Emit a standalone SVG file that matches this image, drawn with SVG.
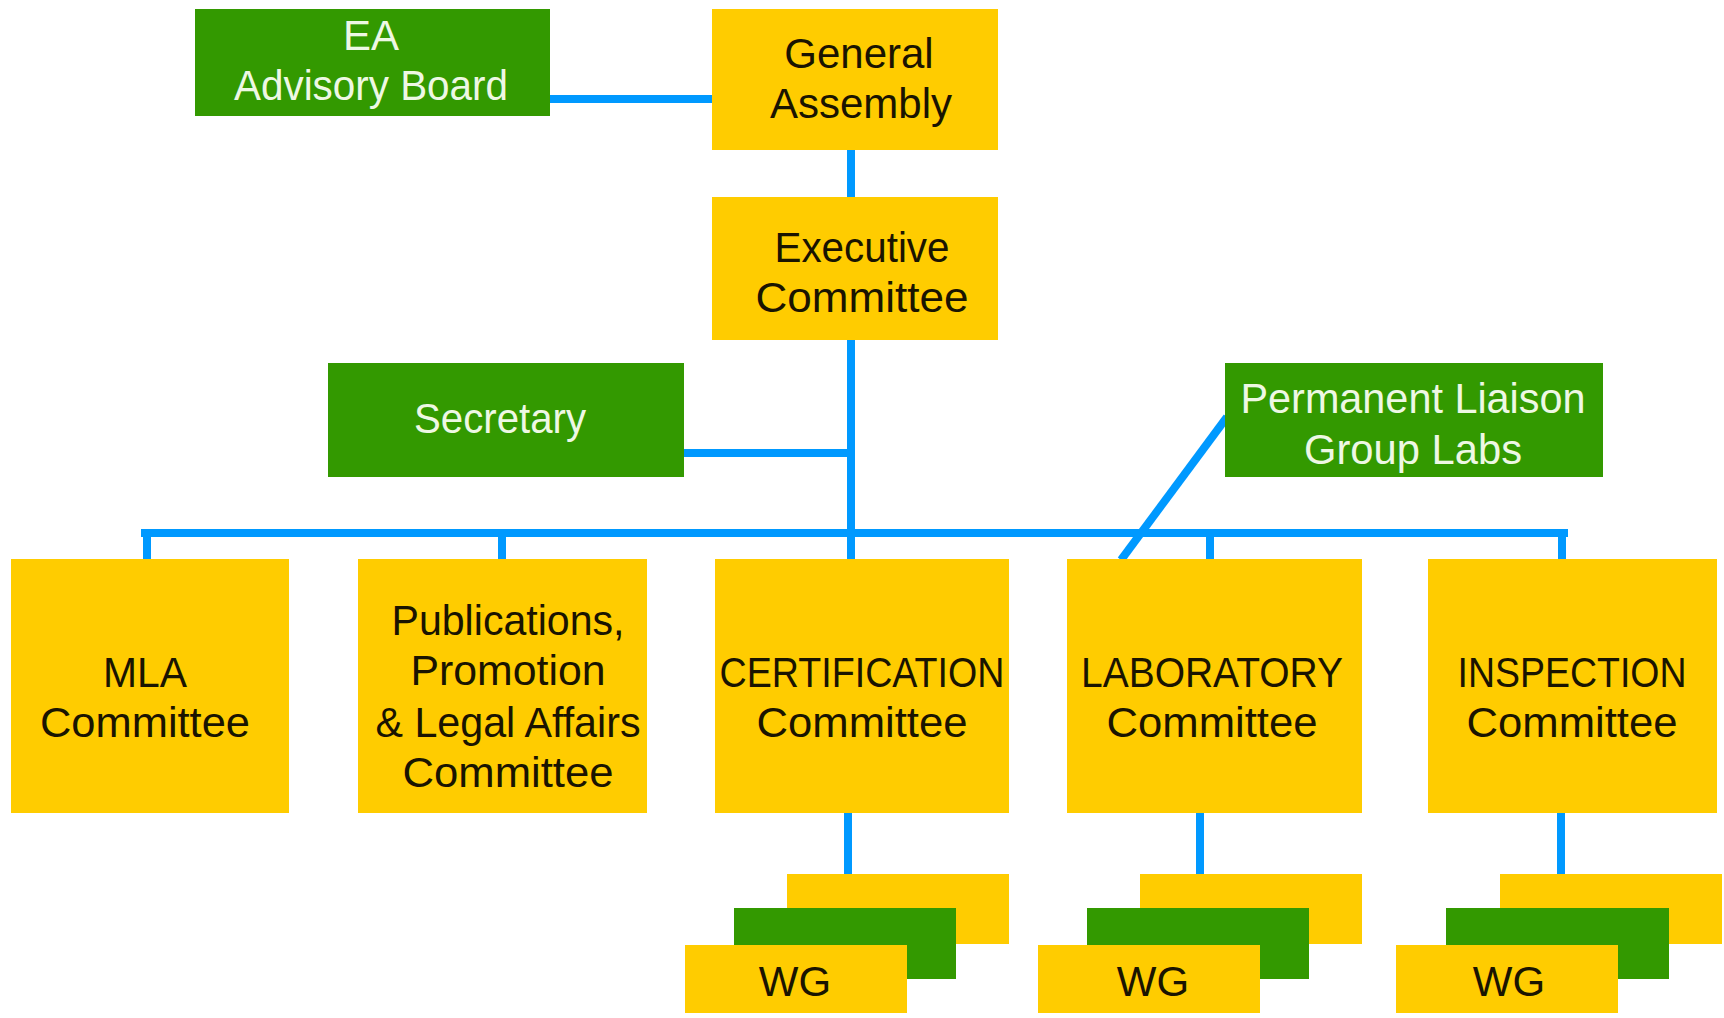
<svg xmlns="http://www.w3.org/2000/svg" width="1724" height="1018" viewBox="0 0 1724 1018">
<style>
.y{fill:#ffcc00}
.g{fill:#339900}
.t{font-family:"Liberation Sans",Arial,sans-serif;font-size:42px;fill:#1a1400;text-anchor:middle}
.w{font-family:"Liberation Sans",Arial,sans-serif;font-size:42px;fill:#eef8e4;text-anchor:middle}
.c{stroke:#0099ff;fill:none;stroke-width:8}
</style>
<rect width="1724" height="1018" fill="#ffffff"/>
<g id="connectors">
<line class="c" x1="549" y1="99" x2="712" y2="99"/>
<line class="c" x1="851" y1="149" x2="851" y2="198"/>
<line class="c" x1="851" y1="340" x2="851" y2="560"/>
<line class="c" x1="683" y1="453" x2="851" y2="453"/>
<line class="c" x1="141" y1="533" x2="1568" y2="533" stroke-width="14"/>
<line class="c" x1="147" y1="533" x2="147" y2="560"/>
<line class="c" x1="502" y1="533" x2="502" y2="560"/>
<line class="c" x1="1210" y1="533" x2="1210" y2="560"/>
<line class="c" x1="1562" y1="533" x2="1562" y2="560"/>
<line class="c" x1="1227" y1="417" x2="1121" y2="560" stroke-width="7"/>
<line class="c" x1="848" y1="812" x2="848" y2="875"/>
<line class="c" x1="1200" y1="812" x2="1200" y2="875"/>
<line class="c" x1="1561" y1="812" x2="1561" y2="875"/>
</g>
<g id="ea-advisory-board">
<rect class="g" x="195" y="9" width="355" height="107"/>
<text class="w" x="371" y="50">EA</text>
<text class="w" x="371" y="100" textLength="274" lengthAdjust="spacingAndGlyphs">Advisory Board</text>
</g>
<g id="general-assembly">
<rect class="y" x="712" y="9" width="286" height="141"/>
<text class="t" x="859" y="68">General</text>
<text class="t" x="861" y="118">Assembly</text>
</g>
<g id="executive-committee">
<rect class="y" x="712" y="197" width="286" height="143"/>
<text class="t" x="862" y="262" textLength="175" lengthAdjust="spacingAndGlyphs">Executive</text>
<text class="t" x="862" y="312" textLength="213" lengthAdjust="spacingAndGlyphs">Committee</text>
</g>
<g id="secretary">
<rect class="g" x="328" y="363" width="356" height="114"/>
<text class="w" x="500" y="433" textLength="172" lengthAdjust="spacingAndGlyphs">Secretary</text>
</g>
<g id="permanent-liaison-group-labs">
<rect class="g" x="1225" y="363" width="378" height="114"/>
<text class="w" x="1413" y="413" textLength="345" lengthAdjust="spacingAndGlyphs">Permanent Liaison</text>
<text class="w" x="1413" y="464" textLength="218" lengthAdjust="spacingAndGlyphs">Group Labs</text>
</g>
<g id="mla-committee">
<rect class="y" x="11" y="559" width="278" height="254"/>
<text class="t" x="145" y="687" textLength="84" lengthAdjust="spacingAndGlyphs">MLA</text>
<text class="t" x="145" y="737" textLength="210" lengthAdjust="spacingAndGlyphs">Committee</text>
</g>
<g id="publications-committee">
<rect class="y" x="358" y="559" width="289" height="254"/>
<text class="t" x="508" y="635" textLength="233" lengthAdjust="spacingAndGlyphs">Publications,</text>
<text class="t" x="508" y="685" textLength="195" lengthAdjust="spacingAndGlyphs">Promotion</text>
<text class="t" x="508" y="737" textLength="265" lengthAdjust="spacingAndGlyphs">&amp; Legal Affairs</text>
<text class="t" x="508" y="787" textLength="211" lengthAdjust="spacingAndGlyphs">Committee</text>
</g>
<g id="certification-committee">
<rect class="y" x="715" y="559" width="294" height="254"/>
<text class="t" x="862" y="687" textLength="285" lengthAdjust="spacingAndGlyphs">CERTIFICATION</text>
<text class="t" x="862" y="737" textLength="211" lengthAdjust="spacingAndGlyphs">Committee</text>
</g>
<g id="laboratory-committee">
<rect class="y" x="1067" y="559" width="295" height="254"/>
<text class="t" x="1212" y="687" textLength="262" lengthAdjust="spacingAndGlyphs">LABORATORY</text>
<text class="t" x="1212" y="737" textLength="211" lengthAdjust="spacingAndGlyphs">Committee</text>
</g>
<g id="inspection-committee">
<rect class="y" x="1428" y="559" width="289" height="254"/>
<text class="t" x="1572" y="687" textLength="229" lengthAdjust="spacingAndGlyphs">INSPECTION</text>
<text class="t" x="1572" y="737" textLength="211" lengthAdjust="spacingAndGlyphs">Committee</text>
</g>
<g id="certification-wg">
<rect class="y" x="787" y="874" width="222" height="70"/>
<rect class="g" x="734" y="908" width="222" height="71"/>
<rect class="y" x="685" y="945" width="222" height="68"/>
<text class="t" x="795" y="996">WG</text>
</g>
<g id="laboratory-wg">
<rect class="y" x="1140" y="874" width="222" height="70"/>
<rect class="g" x="1087" y="908" width="222" height="71"/>
<rect class="y" x="1038" y="945" width="222" height="68"/>
<text class="t" x="1153" y="996">WG</text>
</g>
<g id="inspection-wg">
<rect class="y" x="1500" y="874" width="222" height="70"/>
<rect class="g" x="1446" y="908" width="223" height="71"/>
<rect class="y" x="1396" y="945" width="222" height="68"/>
<text class="t" x="1509" y="996">WG</text>
</g>
</svg>
